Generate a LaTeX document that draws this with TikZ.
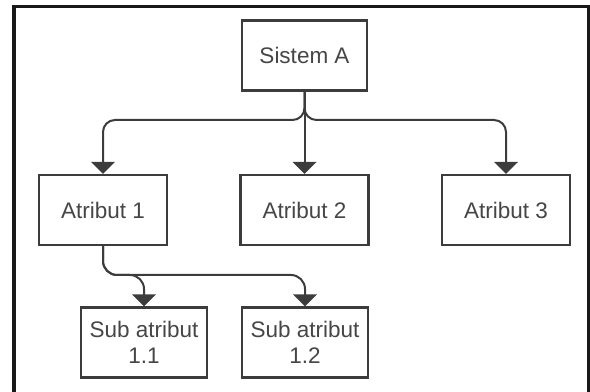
\documentclass[tikz,border=0pt]{standalone}
\usepackage{fontspec}
\setmainfont{Liberation Sans}
\usepackage{tikz}
\usetikzlibrary{arrows.meta}
\definecolor{boxgray}{RGB}{60,60,60}
\definecolor{textgray}{RGB}{70,70,70}

\tikzset{
  box/.style={draw=boxgray, line width=0.06cm, fill=white, text=textgray,
    minimum width=3.15cm, minimum height=1.75cm, align=center,
    font=\fontsize{16}{18}\selectfont, inner sep=0pt},
  conn/.style={draw=boxgray, line width=0.05cm,
    -{Triangle[width=0.6cm,length=0.3cm]}}
}

\begin{document}
\begin{tikzpicture}[x=0.025cm, y=-0.025cm]

% page and outer frame (its bottom edge runs off the page)
\useasboundingbox (0,0) rectangle (590,392);
\draw[black!90, line width=0.075cm] (14,400) -- (14,7) -- (588,7) -- (588,400);

% --- top level ---
\node[box, minimum width=3.125cm] (sistem) at (304.5,55.5) {Sistem A};

% --- attributes ---
\node[box, minimum width=3.2cm] (atr1) at (103,210) {Atribut 1};
\node[box, minimum width=3.2cm] (atr2) at (304.5,210) {Atribut 2};
\node[box, minimum width=3.2cm] (atr3) at (506,210) {Atribut 3};

% --- sub attributes ---
\node[box] (sub11) at (144,342.5) {Sub atribut\\1.1};
\node[box] (sub12) at (305,342.5) {Sub atribut\\1.2};

% branch levels
\coordinate (bus) at (0,120);
\coordinate (subbus) at (0,275);

% Sistem A to the attributes
\draw[conn] (sistem.south) [rounded corners=0.3cm] |- (atr1.north |- bus)
  [rounded corners=0.65cm] -- (atr1.north);
\draw[conn] (sistem.south) [rounded corners=0.3cm] |- (atr3.north |- bus)
  [rounded corners=0.65cm] -- (atr3.north);
\draw[conn] (sistem.south) -- (sistem.south |- atr2.north);

% Atribut 1 to its sub attributes
\draw[conn, rounded corners=0.35cm] (atr1.south) |- (sub11.north |- subbus)
  -- (sub11.north);
\draw[conn, rounded corners=0.35cm] (atr1.south) |- (sub12.north |- subbus)
  -- (sub12.north);

\end{tikzpicture}
\end{document}
